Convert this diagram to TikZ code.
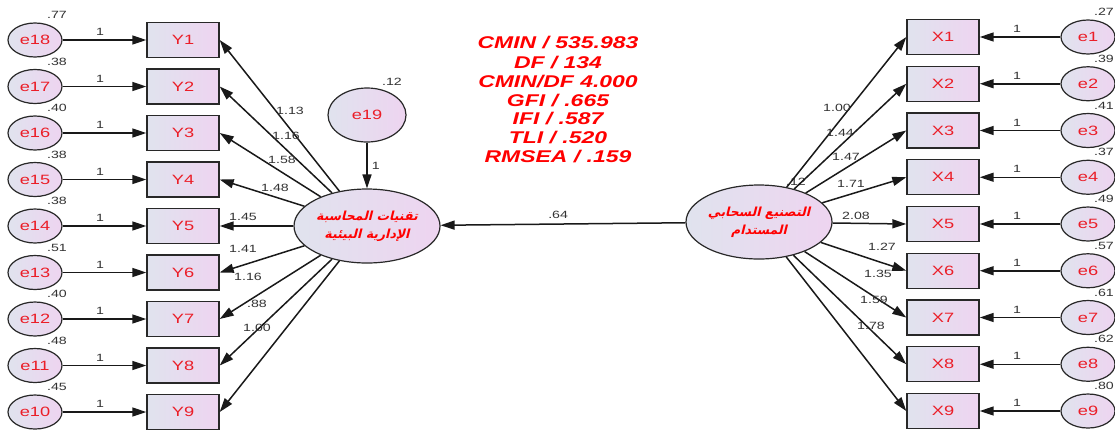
\documentclass[tikz,border=0pt]{standalone}
\usepackage{fontspec}
\setmainfont{Liberation Sans}[FakeStretch=1.35]
\newfontfamily\arabicfont[Script=Arabic,BoldFeatures={FakeSlant=0.25}]{DejaVu Sans}
\TeXXeTstate=1
\usetikzlibrary{shapes.geometric,arrows.meta}
\definecolor{fillA}{RGB}{224,227,238}
\definecolor{fillB}{RGB}{238,212,240}
\definecolor{txtred}{RGB}{235,30,40}
\definecolor{edgec}{RGB}{40,40,40}
\begin{document}
\begin{tikzpicture}[x=1pt,y=-1pt,
 obs/.style={draw=edgec,line width=1.4pt,left color=fillA,right color=fillB,minimum width=72pt,minimum height=35pt,inner sep=0pt,font=\fontsize{13.5}{15}\selectfont,text=txtred},
 err/.style={ellipse,draw=edgec,line width=1.2pt,left color=fillA,right color=fillB,minimum width=54pt,minimum height=34pt,inner sep=0pt,font=\fontsize{13.5}{15}\selectfont,text=txtred},
 latent/.style={ellipse,draw=edgec,line width=1.2pt,left color=fillA,right color=fillB,minimum width=146pt,minimum height=74pt,inner sep=0pt,align=center,font=\arabicfont\bfseries\fontsize{12.5}{18}\selectfont,text=red},
 numlbl/.style={font=\fontsize{10.5}{12}\selectfont,text=black!80,inner sep=0pt},
 load/.style={line width=1.5pt,draw=black!90,-{Triangle[length=14pt,width=9pt]}},
 fitstat/.style={font=\fontsize{17}{19}\selectfont\bfseries\itshape,text=red,inner sep=0pt}
]
\clip (0,0) rectangle (1115,432);
\fill[white] (0,0) rectangle (1115,432);

% latent variables
\node[latent] (latL) at (367,226) {\beginR تقنيات المحاسبة\endR\\\beginR الإدارية البيئية\endR};
\node[latent] (latR) at (759,222) {\beginR التصنيع السحابي\endR\\\beginR المستدام\endR};
\node[err,minimum width=78pt,minimum height=54pt] (e19) at (367,115) {e19};
\node[numlbl] (v19) at (392,82) {.12};
\draw[load] (e19) -- (latL) node[numlbl,pos=0.5,right=4pt] (o19) {1};
\node[numlbl] (vR) at (796,182) {.12};
\draw[load] (latR) -- (latL) node[numlbl,pos=0.52,above=5pt] (c64) {.64};

% fit statistics
\node[fitstat] (s1) at (558,43) {CMIN / 535.983};
\node[fitstat] (s2) at (558,63) {DF / 134};
\node[fitstat] (s3) at (558,82) {CMIN/DF 4.000};
\node[fitstat] (s4) at (558,101) {GFI / .665};
\node[fitstat] (s5) at (558,119) {IFI / .587};
\node[fitstat] (s6) at (558,138) {TLI / .520};
\node[fitstat] (s7) at (558,157) {RMSEA / .159};

% left block
\foreach \i/\v/\l/\lx/\ly in {1/.77/1.13/290/111, 2/.38/1.16/286/136, 3/.40/1.58/282/160, 4/.38/1.48/275/188, 5/.38/1.45/243/217, 6/.51/1.41/243/249, 7/.40/1.16/248/277, 8/.48/.88/257/304, 9/.45/1.00/257/328}{
  \pgfmathsetmacro\yy{40+46.5*(\i-1)}
  \pgfmathtruncatemacro\en{19-\i}
  \node[obs] (Y\i) at (183,\yy) {Y\i};
  \node[err] (eL\i) at (35,\yy) {e\en};
  \node[numlbl] (vL\i) at (57,\yy-25) {\v};
  \draw[load] (eL\i) -- (Y\i);
  \node[numlbl] (oL\i) at (100,\yy-8) {1};
  \draw[load] (latL) -- (Y\i.east);
  \node[numlbl] (lL\i) at (\lx,\ly) {\l};
}

% right block
\foreach \i/\v/\l/\lx/\ly in {1/.27/1.00/837/108, 2/.39/1.44/840/133, 3/.41/1.47/846/157, 4/.37/1.71/851/184, 5/.49/2.08/856/216, 6/.57/1.27/882/247, 7/.61/1.35/878/274, 8/.62/1.59/874/300, 9/.80/1.78/871/326}{
  \pgfmathsetmacro\yy{37+46.75*(\i-1)}
  \node[obs] (X\i) at (943,\yy) {X\i};
  \node[err] (eR\i) at (1088,\yy) {e\i};
  \node[numlbl,anchor=east] (vR\i) at (1114,\yy-25) {\v};
  \draw[load] (eR\i) -- (X\i);
  \node[numlbl] (oR\i) at (1017,\yy-8) {1};
  \draw[load] (latR) -- (X\i.west);
  \node[numlbl] (lR\i) at (\lx,\ly) {\l};
}
\end{tikzpicture}
\end{document}
